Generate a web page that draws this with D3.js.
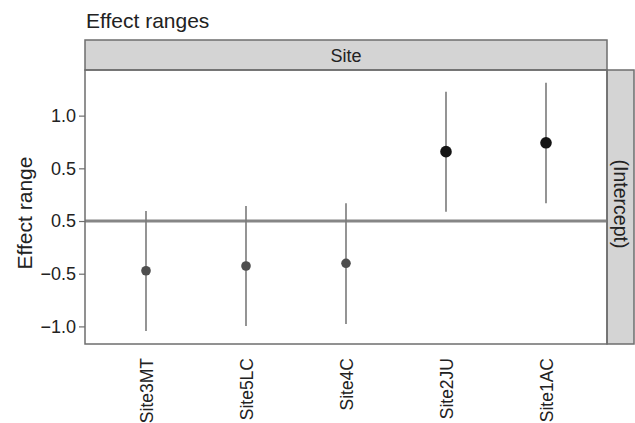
<!DOCTYPE html>
<html>
<head>
<meta charset="utf-8">
<script src="https://cdn.jsdelivr.net/npm/d3@7"></script>
<style>
  html, body { margin: 0; padding: 0; background: #fff; }
  svg { display: block; }
  text { font-family: "Liberation Sans", Arial, Helvetica, sans-serif; fill: #222; }
</style>
</head>
<body>
<svg id="chart" width="635" height="423"></svg>
<script>
// ---- data ----
const sites = ["Site3MT", "Site5LC", "Site4C", "Site2JU", "Site1AC"];
const estimates = [-0.472, -0.427, -0.401, 0.658, 0.742];
const lowerBounds = [-1.044, -0.996, -0.977, 0.088, 0.168];
const upperBounds = [0.095, 0.142, 0.168, 1.227, 1.313];
const yTickValues = [1.0, 0.5, 0.0, -0.5, -1.0];
const yTickLabels = ["1.0", "0.5", "0.5", "\u22120.5", "\u22121.0"];
const chartTitle = "Effect ranges";
const yTitle = "Effect range";
const stripTop = "Site";
const stripRight = "(Intercept)";

// ---- layout ----
const svg = d3.select("#chart");
const L = 85, R = 607, T = 70, B = 344;
const stripTopY = 40, stripRightX = 634;

const x = d3.scalePoint().domain(sites).range([L, R]).padding(0.61);
const y = d3.scaleLinear().domain([-1.167, 1.433]).range([B, T]);

// title
svg.append("text").attr("x", 86).attr("y", 28)
  .attr("font-size", 21).text(chartTitle);

// panel background
svg.append("rect").attr("x", L).attr("y", T).attr("width", R - L).attr("height", B - T)
  .attr("fill", "#fff");

// top strip
svg.append("rect").attr("x", L).attr("y", stripTopY).attr("width", R - L).attr("height", T - stripTopY)
  .attr("fill", "#d4d4d4").attr("stroke", "#6e6e6e").attr("stroke-width", 1.5);
svg.append("text").attr("x", (L + R) / 2).attr("y", 62)
  .attr("text-anchor", "middle").attr("font-size", 18).text(stripTop);

// right strip
svg.append("rect").attr("x", R).attr("y", T).attr("width", stripRightX - R).attr("height", B - T)
  .attr("fill", "#d4d4d4").attr("stroke", "#6e6e6e").attr("stroke-width", 1.5);
svg.append("text")
  .attr("transform", `translate(${R + 7},204) rotate(90)`)
  .attr("text-anchor", "middle").attr("font-size", 19.5).text(stripRight);

// zero reference line
svg.append("line").attr("x1", L).attr("x2", R).attr("y1", y(0)).attr("y2", y(0))
  .attr("stroke", "#868686").attr("stroke-width", 3);

// whiskers
svg.selectAll("line.whisker").data(sites).enter().append("line")
  .attr("class", "whisker")
  .attr("x1", d => x(d)).attr("x2", d => x(d))
  .attr("y1", (d, i) => y(upperBounds[i])).attr("y2", (d, i) => y(lowerBounds[i]))
  .attr("stroke", "#7a7a7a").attr("stroke-width", 1.6);

// points
svg.selectAll("circle.pt").data(sites).enter().append("circle")
  .attr("class", "pt")
  .attr("cx", d => x(d)).attr("cy", (d, i) => y(estimates[i]))
  .attr("r", (d, i) => estimates[i] > 0 ? 5.8 : 4.8)
  .attr("fill", (d, i) => estimates[i] > 0 ? "#141414" : "#4e4e4e");

// panel border
svg.append("rect").attr("x", L).attr("y", T).attr("width", R - L).attr("height", B - T)
  .attr("fill", "none").attr("stroke", "#6e6e6e").attr("stroke-width", 1.5);

// y axis
const yAxis = d3.axisLeft(y).tickValues(yTickValues)
  .tickFormat((d, i) => yTickLabels[i]).tickSize(6).tickPadding(3);
const gy = svg.append("g").attr("transform", `translate(${L},0)`).call(yAxis);
gy.select(".domain").remove();
gy.selectAll(".tick line").attr("stroke", "#6e6e6e").attr("stroke-width", 1.2);
gy.selectAll(".tick text").attr("font-size", 18).attr("fill", "#222")
  .attr("font-family", "Liberation Sans, Arial, sans-serif");

// y title
svg.append("text").attr("transform", `translate(32,213) rotate(-90)`)
  .attr("text-anchor", "middle").attr("font-size", 21).text(yTitle);

// x axis labels (rotated)
const xAxis = d3.axisBottom(x).tickSize(0).tickPadding(0);
const gx = svg.append("g").attr("transform", `translate(0,${B})`).call(xAxis);
gx.select(".domain").remove();
gx.selectAll(".tick text")
  .attr("font-size", 17.5).attr("fill", "#222")
  .attr("font-family", "Liberation Sans, Arial, sans-serif")
  .attr("text-anchor", "end")
  .attr("dy", null)
  .attr("transform", "translate(6.5,14) rotate(-90)")
  .attr("y", 0).attr("x", 0);
</script>
</body>
</html>
